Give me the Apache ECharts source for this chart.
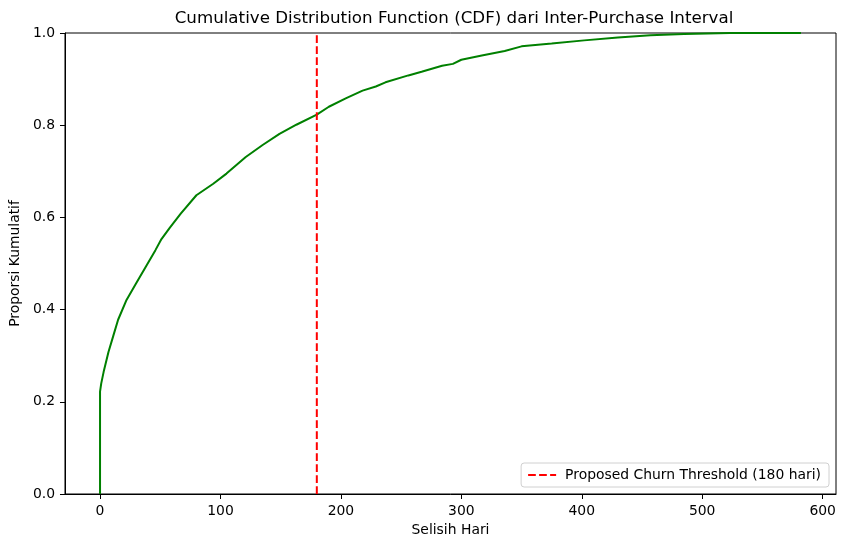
<!DOCTYPE html>
<html>
<head>
<meta charset="utf-8">
<script src="https://cdn.jsdelivr.net/npm/echarts@6/dist/echarts.min.js"></script>
<style>
html, body { margin: 0; padding: 0; background: #fff; }
#chart { width: 846px; height: 547px; }
</style>
</head>
<body>
<div id="chart"></div>
<script>
// CDF points (days, cumulative share)
const selisihHari = [0, 0, 1, 3, 7, 11, 15, 22, 30, 38, 46, 51, 58, 67, 80, 94, 105, 121, 135, 149, 163, 180, 190, 204, 218, 229, 237, 256, 267, 284, 293, 300, 317, 336, 350, 375, 402, 430, 457, 485, 523, 582];
const proporsi = [0, 0.222, 0.240, 0.265, 0.308, 0.343, 0.378, 0.421, 0.457, 0.493, 0.529, 0.553, 0.578, 0.608, 0.648, 0.673, 0.695, 0.731, 0.757, 0.781, 0.801, 0.823, 0.840, 0.858, 0.875, 0.884, 0.893, 0.908, 0.916, 0.929, 0.933, 0.942, 0.951, 0.961, 0.971, 0.977, 0.984, 0.990, 0.995, 0.998, 1.0, 1.0];
const threshold = 180;
const thresholdName = "Proposed Churn Threshold (180 hari)";
const xTicks = [0, 100, 200, 300, 400, 500, 600];

const font = "DejaVu Sans";
const cdfData = selisihHari.map((d, i) => [d, proporsi[i]]);

const chart = echarts.init(document.getElementById("chart"));
chart.setOption({
    animation: false,
    backgroundColor: "#fff",
    textStyle: { fontFamily: font },
    title: {
        text: "Cumulative Distribution Function (CDF) dari Inter-Purchase Interval",
        left: 449,
        top: 5,
        textAlign: "center",
        textStyle: { fontFamily: font, fontSize: 16.7, fontWeight: "normal", color: "#000" }
    },
    grid: {
        left: 62, right: 10, top: 33, bottom: 53,
        show: true, borderColor: "#000", borderWidth: 1, backgroundColor: "transparent"
    },
    legend: {
        data: [thresholdName],
        right: 17, bottom: 60,
        orient: "vertical",
        backgroundColor: "rgba(255,255,255,0.8)",
        borderColor: "#d0d0d0",
        borderWidth: 1,
        borderRadius: 3,
        padding: [5, 8, 5, 6],
        itemWidth: 28,
        itemHeight: 10,
        itemGap: 4,
        itemStyle: { opacity: 0 },
        textStyle: { fontFamily: font, fontSize: 13.9, color: "#000", padding: [0, 0, 0, 4] }
    },
    xAxis: {
        type: "value",
        min: -29.1,
        max: 611.1,
        name: "Selisih Hari",
        nameLocation: "middle",
        nameGap: 28,
        nameTextStyle: { fontFamily: font, fontSize: 13.9, color: "#000" },
        axisLine: { show: true, onZero: false, lineStyle: { color: "#000", width: 1 } },
        axisTick: { show: true, length: 5, customValues: xTicks, lineStyle: { color: "#000" } },
        axisLabel: { customValues: xTicks, margin: 10, fontFamily: font, fontSize: 13.9, color: "#000" },
        splitLine: { show: false }
    },
    yAxis: {
        type: "value",
        min: 0,
        max: 1,
        interval: 0.2,
        name: "Proporsi Kumulatif",
        nameLocation: "middle",
        nameGap: 42,
        nameTextStyle: { fontFamily: font, fontSize: 13.9, color: "#000" },
        axisLine: { show: true, onZero: false, lineStyle: { color: "#000", width: 1 } },
        axisTick: { show: true, length: 5, lineStyle: { color: "#000" } },
        axisLabel: {
            margin: 10, fontFamily: font, fontSize: 13.9, color: "#000",
            formatter: v => v.toFixed(1)
        },
        splitLine: { show: false }
    },
    series: [
        {
            name: "CDF",
            type: "line",
            data: cdfData,
            symbol: "none",
            showSymbol: false,
            lineStyle: { color: "#008000", width: 2 },
            itemStyle: { color: "#008000" },
            z: 2
        },
        {
            name: thresholdName,
            type: "line",
            data: [[threshold, 0], [threshold, 1]],
            symbol: "none",
            showSymbol: false,
            lineStyle: { color: "#ff0000", width: 2, type: [7.7, 3.3] },
            itemStyle: { color: "#ff0000" },
            z: 3
        }
    ]
});
</script>
</body>
</html>
